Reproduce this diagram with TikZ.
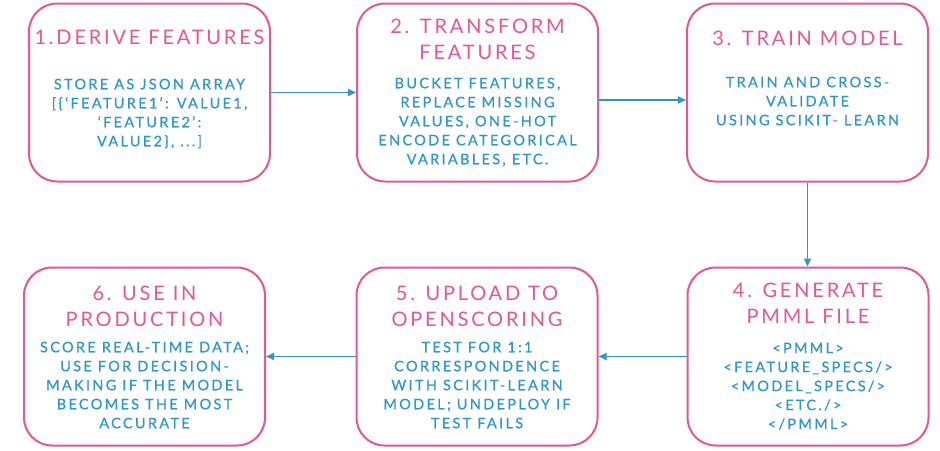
\documentclass[tikz,border=0pt]{standalone}
\usepackage{fontspec}
\setmainfont{Lato}
\newfontfamily\headfont[LetterSpace=14]{Lato}
\newfontfamily\bodyfont[LetterSpace=16,FakeBold=0.6]{Lato}
\usetikzlibrary{arrows.meta}

\definecolor{headpink}{RGB}{233,84,150}
\definecolor{bodyblue}{RGB}{44,150,205}

\tikzset{every picture/.style={line width=0.5pt}}

\begin{document}
\begin{tikzpicture}[x=1pt,y=1pt,yscale=-1,xscale=1,
  stepbox/.style={draw=headpink, line width=2pt, rounded corners=28pt, minimum width=241pt, minimum height=178pt, inner sep=0pt},
  headtext/.style={text=headpink, font=\headfont\fontsize{20}{26}\selectfont, align=center, inner sep=0pt, anchor=north},
  bodytext/.style={text=bodyblue, font=\bodyfont\fontsize{14.5}{19}\selectfont, align=center, inner sep=0pt, anchor=north},
  flow/.style={draw=bodyblue, line width=1.8pt, -{Triangle[length=8pt,width=7pt]}}]
\path (0,0) rectangle (940,450); %set diagram area to 940 x 450

%Rounded Rect boxes
\node [stepbox] (derive) at (149.5,92.5) {};
\node [stepbox] (transform) at (477.5,92.5) {};
\node [stepbox] (train) at (807.5,92.5) {};
\node [stepbox] (generate) at (808,356.5) {};
\node [stepbox] (upload) at (477,356.5) {};
\node [stepbox] (produce) at (144.5,356.5) {};

% Text Node
\node [headtext] (derivehead) at (149.5,30) {1.DERIVE FEATURES};
\node [bodytext] (derivebody) at (149.5,78.5) {STORE AS JSON ARRAY\\{[}\{‘FEATURE1’: VALUE1,\\‘FEATURE2’:\\VALUE2\}, ...{]}};
% Text Node
\node [headtext] (transformhead) at (477.5,18.5) {2. TRANSFORM\\FEATURES};
\node [bodytext] (transformbody) at (477.5,77.5) {BUCKET FEATURES,\\REPLACE MISSING\\VALUES, ONE-HOT\\ENCODE CATEGORICAL\\VARIABLES, ETC.};
% Text Node
\node [headtext] (trainhead) at (807.5,30.5) {3. TRAIN MODEL};
\node [bodytext] (trainbody) at (807.5,76.5) {TRAIN AND CROSS-\\VALIDATE\\USING SCIKIT- LEARN};
% Text Node
\node [headtext] (generatehead) at (808,282.5) {4. GENERATE\\PMML FILE};
\node [bodytext] (generatebody) at (808,342.5) {<PMML>\\<FEATURE\_SPECS/>\\<MODEL\_SPECS/>\\<ETC./>\\</PMML>};
% Text Node
\node [headtext] (uploadhead) at (477,285.5) {5. UPLOAD TO\\OPENSCORING};
\node [bodytext] (uploadbody) at (477,341.5) {TEST FOR 1:1\\CORRESPONDENCE\\WITH SCIKIT-LEARN\\MODEL; UNDEPLOY IF\\TEST FAILS};
% Text Node
\node [headtext] (producehead) at (144.5,285.5) {6. USE IN\\PRODUCTION};
\node [bodytext] (producebody) at (144.5,341.5) {SCORE REAL-TIME DATA;\\USE FOR DECISION-\\MAKING IF THE MODEL\\BECOMES THE MOST\\ACCURATE};

%Straight Lines
\draw [flow] (derive.east) -- (transform.west);
\draw [flow] ([yshift=7.5pt]transform.east) -- ([yshift=7.5pt]train.west);
\draw [flow] (train.south) -- (train.south |- generate.north);
\draw [flow] (generate.west) -- (upload.east);
\draw [flow] (upload.west) -- (produce.east);
\end{tikzpicture}
\end{document}
